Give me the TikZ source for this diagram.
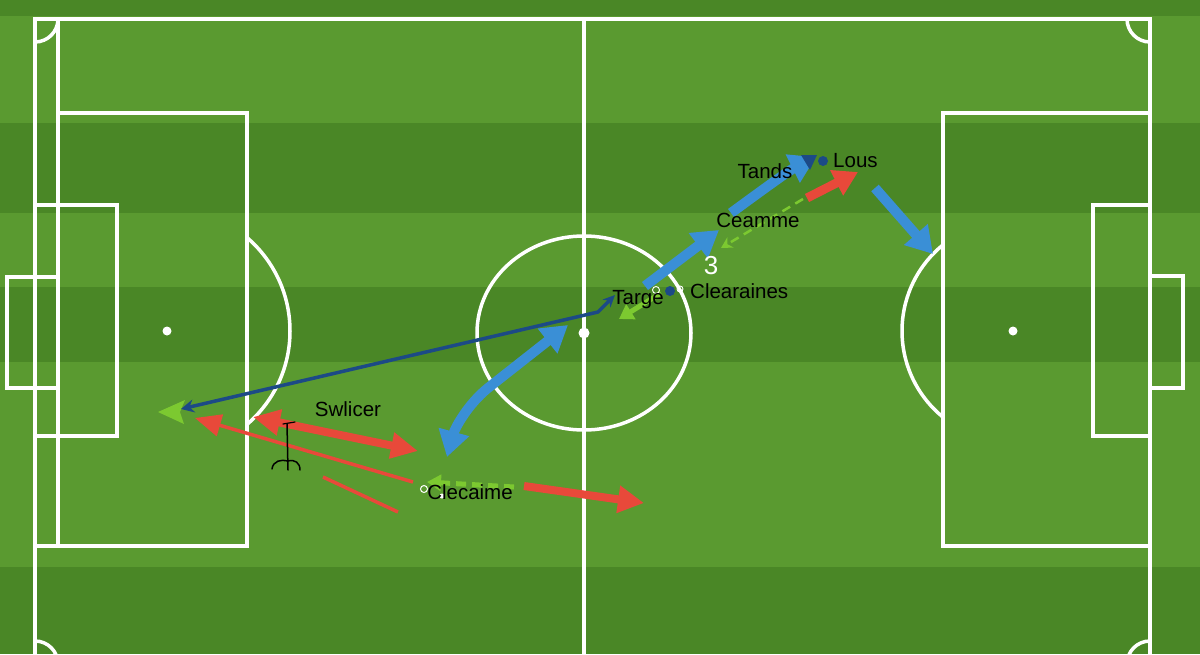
\documentclass[tikz,border=0pt]{standalone}
\usepackage{fontspec}
\setmainfont{Liberation Sans}
\usetikzlibrary{arrows.meta}
\definecolor{grassL}{HTML}{5A9A30}
\definecolor{grassD}{HTML}{4A8726}
\definecolor{pblue}{HTML}{3A8FD6}
\definecolor{pred}{HTML}{E8493A}
\definecolor{plime}{HTML}{7CC930}
\definecolor{pnavy}{HTML}{1C4A86}
\begin{document}
\begin{tikzpicture}[x=1pt,y=-1pt,
  pline/.style={white, line width=3.5pt},
  lbl/.style={font=\fontsize{20.5}{22}\selectfont, text=black, inner sep=0pt},
  bluearrow/.style={pblue, line width=10pt, -{Triangle[length=26pt,width=30pt]}},
  bluedouble/.style={pblue, line width=10pt, {Triangle[length=26pt,width=30pt]}-{Triangle[length=26pt,width=30pt]}},
  redarrow/.style={pred, line width=8pt, -{Triangle[length=26pt,width=26pt]}},
  reddouble/.style={pred, line width=8pt, {Triangle[length=27pt,width=25pt]}-{Triangle[length=27pt,width=25pt]}},
  redthin/.style={pred, line width=3.5pt},
  limedash/.style={plime, line width=5pt, dash pattern=on 10pt off 6pt},
]
\useasboundingbox (0,0) rectangle (1200,654);
% grass
\fill[grassL] (0,0) rectangle (1200,654);
\fill[grassD] (0,0) rectangle (1200,16);
\fill[grassD] (0,123) rectangle (1200,213);
\fill[grassD] (0,287) rectangle (1200,362);
\fill[grassD] (0,567) rectangle (1200,654);
% pitch outline
\draw[pline] (35,670) -- (35,19) -- (1150,19) -- (1150,670);
\draw[pline] (584,19) -- (584,670);
\begin{scope}
  \clip (35,19) rectangle (1150,662);
  \draw[pline] (35,19) circle[radius=23pt];
  \draw[pline] (1150,19) circle[radius=23pt];
  \draw[pline] (35,664) circle[radius=23pt];
  \draw[pline] (1150,664) circle[radius=23pt];
\end{scope}
% left end
\draw[pline] (58,19) -- (58,546);
\draw[pline] (58,113) -- (247,113) -- (247,546) -- (35,546);
\draw[pline] (35,205) rectangle (117,436);
\draw[pline] (58,277) -- (7,277) -- (7,388) -- (58,388);
\begin{scope}
  \clip (247,0) rectangle (420,654);
  \draw[pline] (167,331) circle[radius=123pt];
\end{scope}
\fill[white] (167,331) circle[radius=4.5pt];
% right end
\draw[pline] (943,113) rectangle (1150,546);
\draw[pline] (1093,205) rectangle (1150,436);
\draw[pline] (1150,276) -- (1183,276) -- (1183,388) -- (1150,388);
\begin{scope}
  \clip (780,0) rectangle (943,654);
  \draw[pline] (1013,331) circle[radius=111pt];
\end{scope}
\fill[white] (1013,331) circle[radius=4.5pt];
% centre
\draw[pline] (584,333) ellipse[x radius=107pt, y radius=97pt];
\fill[white] (584,333) circle[radius=5.5pt];

% ---- coordinates for connectors
\coordinate (nvA) at (181,409);
\coordinate (nvK) at (598,312);
\coordinate (nvB) at (615,295);
\coordinate (rdA) at (253,417);
\coordinate (rdB) at (418,451);
\coordinate (rtA) at (413,482);
\coordinate (rtB) at (195,418);
\coordinate (rsA) at (323,477);
\coordinate (rsB) at (398,512);
\coordinate (bcA) at (447,457);
\coordinate (bcM) at (488,388);
\coordinate (bcB) at (568,325);
\coordinate (lgA) at (514,487);
\coordinate (lgB) at (427,482);
\coordinate (rfA) at (524,486);
\coordinate (rfB) at (644,503);
\coordinate (b1A) at (645,286);
\coordinate (b1B) at (719,230);
\coordinate (b2A) at (731,213);
\coordinate (b2B) at (816,157);
\coordinate (r2A) at (807,198);
\coordinate (r2B) at (858,172);
\coordinate (ldA) at (803,199);
\coordinate (ldB) at (721,248);
\coordinate (b3A) at (875,188);
\coordinate (b3B) at (933,254);
\coordinate (lsA) at (661,293);
\coordinate (lsB) at (619,319);

% lime arrowhead at far left
\fill[plime] (158,412) -- (185,400) -- (180,412) -- (184,424) -- cycle;
% navy pass
\draw[pnavy, line width=3.5pt, line join=round, {Stealth[length=13pt,width=13pt]}-{Stealth[length=12pt,width=11pt]}] (nvA) -- (nvK) -- (nvB);
% red runs
\draw[reddouble] (rdA) -- (rdB);
\draw[redthin, -{Triangle[length=26pt,width=22pt]}] (rtA) -- (rtB);
\draw[redthin] (rsA) -- (rsB);
% blue curved
\draw[bluedouble] (bcA) .. controls (455,428) and (468,404) .. (bcM) -- (bcB);
% Clecaime lime dashed
\draw[limedash, -{Triangle[length=14pt,width=16pt]}] (lgA) -- (lgB);
\draw[white, line width=1pt] (424,489) circle[radius=3.5pt];
\fill[white] (442,496) circle[radius=2.5pt];
% red forward
\draw[redarrow] (rfA) -- (rfB);
% blue chain
\draw[bluearrow] (b1A) -- (b1B);
\draw[bluearrow] (b2A) .. controls (765,188) and (790,170) .. (b2B);
\fill[pnavy] (801,155) -- (817,155) -- (810,170) -- cycle;
\fill[pnavy] (823,161) circle[radius=5pt];
% red short
\draw[pred, line width=9pt, -{Triangle[length=24pt,width=27pt]}] (r2A) -- (r2B);
% lime dashed thin
\draw[plime, line width=2.5pt, dash pattern=on 9pt off 6pt, -{Stealth[length=11pt,width=12pt]}] (ldA) -- (ldB);
% blue to right box
\draw[bluearrow] (b3A) -- (b3B);
% lime small
\draw[plime, line width=5pt, -{Triangle[length=14pt,width=17pt]}] (lsA) -- (lsB);
\fill[pnavy] (670,291) circle[radius=5pt];
\draw[white, line width=0.9pt] (656,290) circle[radius=3.5pt];
\draw[white, line width=0.9pt] (680,289) circle[radius=3pt];
% squiggle
\draw[black, line width=1.5pt, line cap=round] (287,424) -- (288,470);
\draw[black, line width=1.2pt, line cap=round] (283,424) -- (295,422);
\draw[black, line width=1.5pt, line cap=round] (272,469) .. controls (273,461) and (281,459) .. (288,461) .. controls (295,459) and (300,463) .. (300,470);

% labels
\node[lbl] (tands) at (765,171) {Tands};
\node[lbl, anchor=west] (lous) at (833,161) {Lous};
\node[lbl] (ceamme) at (758,220) {Ceamme};
\node[font=\fontsize{26}{28}\selectfont, text=white, inner sep=0pt] (three) at (711,266) {3};
\node[lbl, anchor=west] (clear) at (690,291) {Clearaines};
\node[lbl] (targe) at (638,300) {Targe};
\node[lbl] (swl) at (348,409) {Swlicer};
\node[lbl] (clec) at (470,492) {Clecaime};
\end{tikzpicture}
\end{document}
